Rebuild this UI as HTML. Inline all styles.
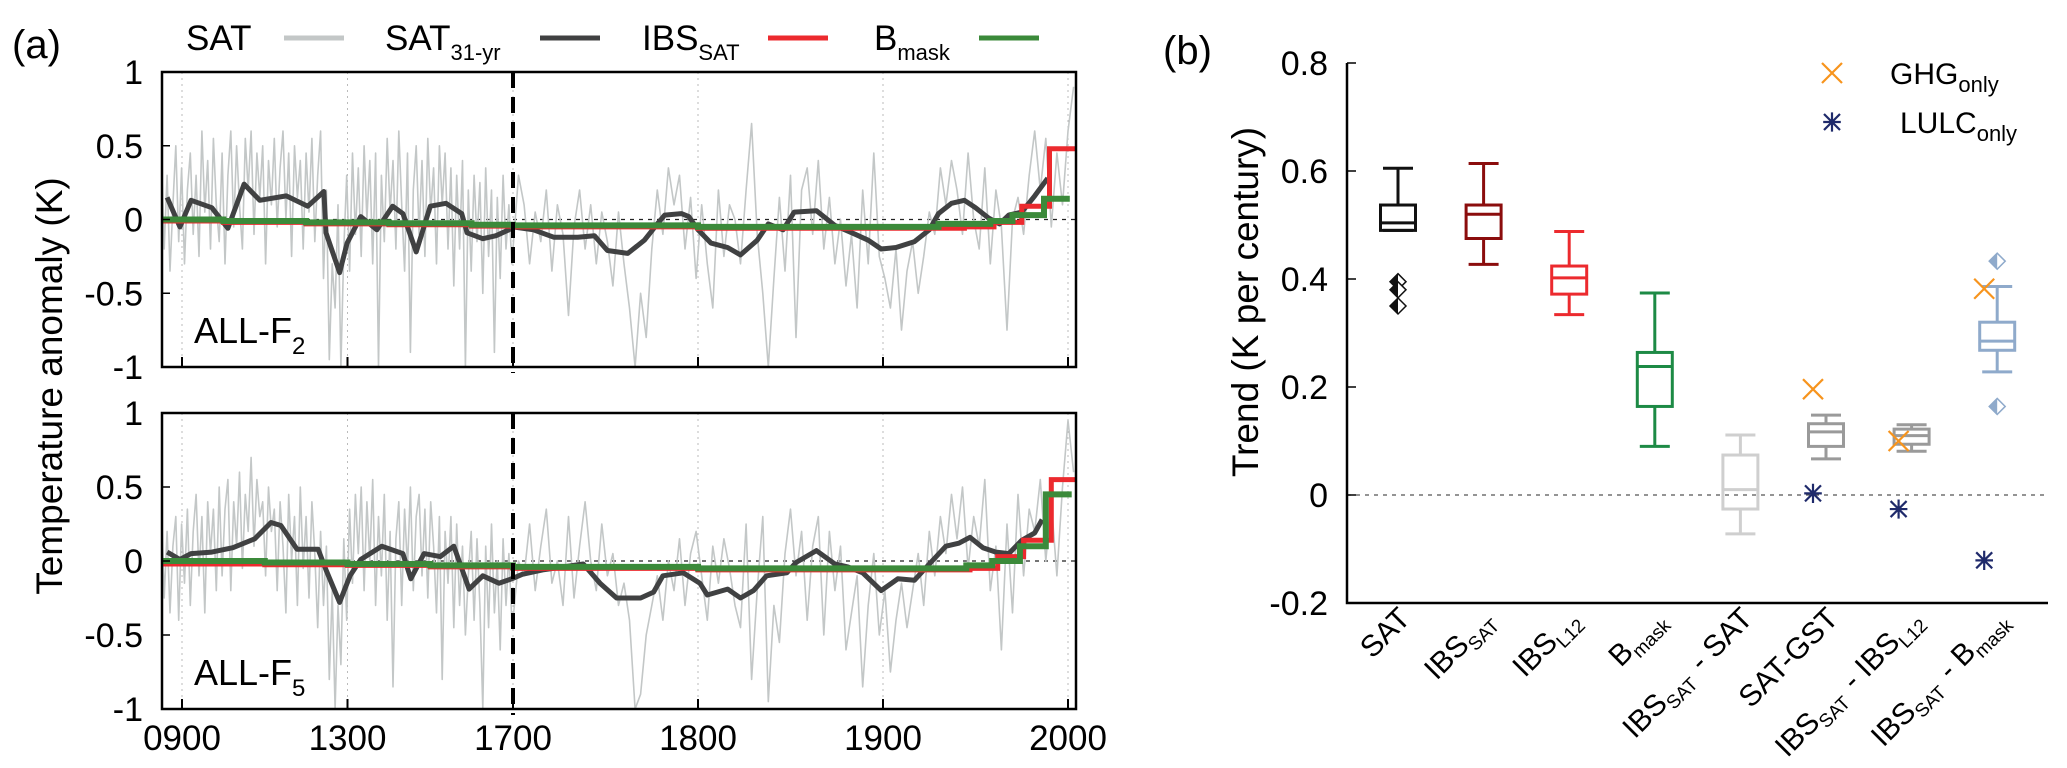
<!DOCTYPE html>
<html><head><meta charset="utf-8">
<style>
html,body{margin:0;padding:0;background:#fff;}
svg{display:block;font-family:"Liberation Sans",sans-serif;}
</style></head>
<body>
<svg id="fig" width="2067" height="768" viewBox="0 0 2067 768" xmlns="http://www.w3.org/2000/svg">
  <g id="panelA"></g>
  <g id="panelB"></g>
</svg>
<script>
// ---------- Panel (a) data ----------
const satStartPre = 850, satStepPre = 7, satStartPost = 1700, satStepPost = 3;
const sat1Pre = [0.45,-0.2,0.3,-0.35,0.1,0.5,-0.15,0.35,-0.3,0.2,
0.45,-0.1,0.3,-0.25,0.6,0.05,0.4,-0.2,0.55,0.1,
-0.15,0.45,-0.3,0.3,0.6,-0.05,0.5,0.1,-0.2,0.55,
0.2,0.6,-0.1,0.45,0.15,0.5,-0.3,0.4,0.1,0.55,
-0.05,0.35,0.6,0.0,0.45,-0.25,0.5,0.15,0.4,-0.2,
0.45,0.05,0.55,-0.15,0.3,0.6,-0.4,0.2,-0.95,-0.3,
-0.6,0.1,-1.0,-0.2,0.3,-0.35,0.45,-0.1,0.35,-0.25,
0.5,0.0,0.4,-0.3,0.45,-1.0,0.3,-0.15,0.55,0.05,
0.4,-0.2,0.6,0.1,-0.35,0.45,-0.9,0.2,0.5,-0.1,
0.4,-0.25,0.55,0.05,0.35,-0.3,0.5,0.1,0.45,-0.2,
0.35,-0.45,0.3,-0.2,0.4,-1.0,0.2,-0.35,0.3,-0.15,
0.25,-0.5,0.35,-0.25,0.2,-0.9,0.15,-0.4,0.3,-0.2,
0.1,-0.3];
const sat1Post = [-0.2,0.3,0.1,-0.3,0.05,-0.15,0.2,-0.35,0.1,-0.1,
-0.65,-0.05,0.2,-0.2,0.1,-0.3,0.05,-0.15,-0.45,0.05,
-0.3,-0.6,-1.0,-0.5,-0.8,-0.2,0.2,-0.1,0.35,0.1,
0.3,-0.2,0.15,-0.4,0.1,-0.3,-0.6,0.2,-0.25,0.1,
0.0,-0.3,0.2,0.65,-0.1,-0.5,-1.0,-0.4,0.15,-0.35,
0.3,-0.8,0.2,0.35,-0.1,0.4,-0.2,0.15,-0.3,0.0,
-0.45,-0.1,-0.6,0.2,-0.3,0.45,-0.25,-0.4,-0.6,-0.2,
-0.75,-0.35,-0.15,-0.5,-0.25,0.05,-0.1,0.35,0.1,0.4,
0.2,-0.1,0.45,0.0,-0.2,0.35,-0.3,0.2,-0.05,-0.75,
0.0,0.15,-0.1,0.3,0.6,0.2,0.55,-0.05,0.45,0.1,
0.6,0.9];
const sat2Pre = [0.4,-0.25,0.2,-0.35,0.1,0.3,-0.4,0.25,-0.15,0.35,
-0.3,0.2,0.45,-0.1,0.3,-0.35,0.4,0.05,0.35,-0.2,
0.5,-0.1,0.35,0.55,-0.2,0.4,0.1,0.6,-0.05,0.45,
0.2,0.7,0.1,0.55,0.3,0.4,-0.1,0.5,0.2,0.35,
-0.2,0.4,0.1,-0.35,0.45,0.0,0.3,-0.3,0.5,-0.05,
0.3,-0.25,0.4,0.05,-0.45,0.2,-0.3,0.1,-0.8,-0.2,
-1.0,-0.3,-0.7,0.15,-0.4,0.35,-0.15,0.45,0.05,0.5,
-0.2,0.4,0.0,0.55,-0.3,0.3,-0.1,0.45,-0.4,0.2,
-0.85,0.15,0.4,-0.3,0.35,-0.05,0.5,-0.2,0.3,0.45,
-0.1,0.35,-0.25,0.4,0.1,-0.35,0.3,-0.8,0.2,-0.15,
0.3,-0.45,0.25,-0.3,0.1,-0.5,-0.1,0.2,-0.4,0.15,
-0.3,-1.0,0.1,-0.45,0.25,-0.35,0.0,-0.6,0.15,-0.3,
0.05,-0.4];
const sat2Post = [-0.4,0.0,-0.1,0.25,-0.2,0.1,0.35,-0.15,0.0,-0.3,
0.3,-0.25,0.1,0.4,0.0,-0.2,0.25,-0.1,0.05,-0.3,
-0.15,-0.4,-1.0,-0.9,-0.5,-0.3,-0.1,-0.4,0.0,-0.2,
0.15,-0.3,0.05,0.2,-0.1,-0.4,0.1,-0.15,0.15,-0.05,
-0.3,-0.45,0.25,-0.8,-0.2,0.3,-0.95,-0.3,-0.55,0.05,
0.35,-0.1,0.2,-0.4,0.1,0.3,-0.5,0.2,-0.2,0.1,
-0.6,-0.35,-0.1,-0.85,-0.3,0.05,-0.5,-0.2,-0.75,-0.4,
-0.15,-0.45,-0.2,0.05,-0.3,0.2,-0.1,0.3,0.05,0.45,
0.15,0.5,-0.05,0.3,0.1,0.55,-0.2,0.1,-0.6,0.25,
-0.35,0.45,-0.1,0.35,0.2,0.55,0.0,0.4,-0.1,0.5,
0.95,0.6];
const smooth1Years = [864,895,922,972,1011,1050,1088,1152,1204,1243,1248,1281,1299,1332,1371,1409,1434,1466,1500,1538,1576,1589,1627,1659,1690,1700,1711,1722,1735,1744,1751,1762,1771,1778,1782,1791,1795,1800,1807,1816,1823,1832,1838,1846,1852,1864,1874,1885,1892,1899,1907,1917,1925,1930,1937,1944,1950,1957,1963,1968,1975,1982,1989];
const smooth1Vals = [0.15,-0.05,0.13,0.08,-0.06,0.24,0.13,0.16,0.09,0.19,-0.09,-0.36,-0.16,0.02,-0.07,0.09,0.04,-0.22,0.09,0.11,0.04,-0.09,-0.13,-0.11,-0.07,-0.05,-0.07,-0.12,-0.12,-0.11,-0.21,-0.23,-0.14,-0.03,0.03,0.04,0.02,-0.07,-0.16,-0.19,-0.24,-0.14,-0.03,-0.07,0.05,0.06,-0.04,-0.10,-0.14,-0.20,-0.19,-0.15,-0.07,0.04,0.11,0.13,0.08,0.01,-0.03,0.03,0.05,0.16,0.28];
const smooth2Years = [864,895,922,972,1023,1076,1115,1139,1178,1229,1248,1281,1306,1332,1383,1434,1453,1485,1524,1557,1594,1627,1666,1697,1705,1716,1738,1747,1756,1769,1776,1781,1792,1801,1805,1816,1823,1830,1837,1848,1853,1864,1874,1881,1889,1899,1908,1917,1925,1934,1941,1947,1954,1961,1968,1975,1982,1986];
const smooth2Vals = [0.06,0.01,0.05,0.06,0.09,0.15,0.26,0.24,0.08,0.08,-0.06,-0.28,-0.10,0.01,0.10,0.05,-0.12,0.05,0.03,0.10,-0.19,-0.10,-0.15,-0.12,-0.09,-0.06,-0.02,-0.15,-0.25,-0.25,-0.21,-0.10,-0.08,-0.15,-0.23,-0.19,-0.25,-0.20,-0.10,-0.08,-0.01,0.07,-0.02,-0.04,-0.08,-0.20,-0.12,-0.13,-0.02,0.10,0.12,0.16,0.09,0.06,0.05,0.14,0.19,0.28];
const ibs1Years = [852,1000,1200,1400,1600,1700,1800,1944,1960,1975,1990];
const ibs1Vals = [-0.01,-0.02,-0.03,-0.035,-0.045,-0.05,-0.06,-0.05,-0.02,0.09,0.48];
const ibs1End = 2005;
const bm1Years = [852,1000,1200,1400,1600,1700,1800,1930,1958,1970,1987];
const bm1Vals = [0,-0.01,-0.02,-0.025,-0.035,-0.04,-0.05,-0.03,-0.01,0.03,0.14];
const bm1End = 2001;
const ibs2Years = [852,1100,1300,1500,1700,1800,1933,1947,1962,1976,1991];
const ibs2Vals = [-0.02,-0.025,-0.03,-0.04,-0.05,-0.06,-0.06,-0.05,0.03,0.14,0.55];
const ibs2End = 2005;
const bm2Years = [852,1100,1300,1500,1700,1800,1945,1959,1974,1988];
const bm2Vals = [0,-0.01,-0.02,-0.03,-0.04,-0.05,-0.03,0.0,0.10,0.45];
const bm2End = 2002;
const xTickYears = [900,1300,1700,1800,1900,2000];
const xTickLabels = ["0900","1300","1700","1800","1900","2000"];
const yTicksA = [1,0.5,0,-0.5,-1];
const yTickLabelsA = ["1","0.5","0","-0.5","-1"];

// ---------- Panel (b) data ----------
const catLabels = ["SAT","IBS_SAT","IBS_L12","B_mask","IBS_SAT - SAT","SAT-GST","IBS_SAT - IBS_L12","IBS_SAT - B_mask"];
const whiskHi = [0.605,0.614,0.488,0.374,0.111,0.148,0.130,0.386];
const boxHi   = [0.537,0.537,0.424,0.264,0.074,0.132,0.122,0.320];
const medians = [0.504,0.520,0.402,0.238,0.010,0.117,0.110,0.285];
const boxLo   = [0.490,0.475,0.372,0.164,-0.026,0.090,0.094,0.268];
const whiskLo = [0.490,0.427,0.334,0.090,-0.072,0.067,0.081,0.228];
const boxColors = ["#111111","#8b0d0d","#ec2a2e","#1d8a45","#cfcfcf","#9a9a9a","#9a9a9a","#8faacb"];
const outlierCat = [0,0,0,7,7];
const outlierVals = [0.395,0.380,0.350,0.433,0.164];
const ghgCat = [5,6,7];
const ghgVals = [0.196,0.100,0.382];
const lulcCat = [5,6,7];
const lulcVals = [0.003,-0.026,-0.121];
const yTicksB = [0.8,0.6,0.4,0.2,0,-0.2];
const yTickLabelsB = ["0.8","0.6","0.4","0.2","0","-0.2"];

const NS = "http://www.w3.org/2000/svg";
function mk(parent, tag, attrs, text){
  const e = document.createElementNS(NS, tag);
  for (const k in attrs) e.setAttribute(k, attrs[k]);
  if (text !== undefined) e.textContent = text;
  parent.appendChild(e);
  return e;
}

// ---------- Panel (a) ----------
const A = document.getElementById('panelA');
const PL = 162, PR = 1076;
function xA(yr){ return yr < 1700 ? 182 + (yr - 900) * 165.5 / 400 : 513 + (yr - 1700) * 1.85; }
const panels = [
  {top:72, bot:367, zero:219.5, k:147.5, pre:sat1Pre, post:sat1Post, sy:smooth1Years, sv:smooth1Vals,
   iy:ibs1Years, iv:ibs1Vals, ie:ibs1End, by:bm1Years, bv:bm1Vals, be:bm1End, lab:"2", labY:343, name:"top"},
  {top:413, bot:709, zero:561, k:148, pre:sat2Pre, post:sat2Post, sy:smooth2Years, sv:smooth2Vals,
   iy:ibs2Years, iv:ibs2Vals, ie:ibs2End, by:bm2Years, bv:bm2Vals, be:bm2End, lab:"5", labY:685, name:"bottom"}
];
const defs = mk(document.getElementById('fig'), 'defs', {});
panels.forEach((p, pi) => {
  const yA = v => p.zero - v * p.k;
  const g = mk(A, 'g', {});
  
  
  const cp = mk(defs, 'clipPath', {id:'clipA' + pi});
  mk(cp, 'rect', {x:PL, y:p.top, width:PR - PL, height:p.bot - p.top});
  xTickYears.forEach(yr => {
    const gl = mk(g, 'line', {x1:xA(yr), x2:xA(yr), y1:p.top, y2:p.bot, stroke:'#bbb', 'stroke-width':1, 'stroke-dasharray':'2,4'});
    
    
  });
  const zl = mk(g, 'line', {x1:PL, x2:PR, y1:yA(0), y2:yA(0), stroke:'#222', 'stroke-width':1.3, 'stroke-dasharray':'4,5'});
  
  
  const data = mk(g, 'g', {'clip-path':'url(#clipA' + pi + ')'});
  let pts = [];
  p.pre.forEach((v, i) => pts.push(xA(satStartPre + i * satStepPre).toFixed(1) + ',' + yA(v).toFixed(1)));
  p.post.forEach((v, i) => pts.push(xA(satStartPost + i * satStepPost).toFixed(1) + ',' + yA(v).toFixed(1)));
  const sl = mk(data, 'polyline', {points:pts.join(' '), fill:'none', stroke:'#c3c7c7', 'stroke-width':1.6, 'stroke-linejoin':'round'});
  
  
  pts = p.sy.map((yr, i) => xA(yr).toFixed(1) + ',' + yA(p.sv[i]).toFixed(1));
  const dl = mk(data, 'polyline', {points:pts.join(' '), fill:'none', stroke:'#404142', 'stroke-width':5, 'stroke-linejoin':'round'});
  
  
  function step(years, vals, end){
    const out = [];
    years.forEach((yr, i) => {
      const nx = i < years.length - 1 ? years[i + 1] : end;
      out.push(xA(yr).toFixed(1) + ',' + yA(vals[i]).toFixed(1));
      out.push(xA(nx).toFixed(1) + ',' + yA(vals[i]).toFixed(1));
    });
    return out.join(' ');
  }
  const rl = mk(data, 'polyline', {points:step(p.iy, p.iv, p.ie), fill:'none', stroke:'#ec2a2e', 'stroke-width':5});
  
  
  const gl2 = mk(data, 'polyline', {points:step(p.by, p.bv, p.be), fill:'none', stroke:'#3b8a3a', 'stroke-width':6});
  
  
  const d17 = mk(g, 'line', {x1:xA(1700), x2:xA(1700), y1:p.top, y2:p.bot + 6, stroke:'#000', 'stroke-width':4, 'stroke-dasharray':'16,9'});
  
  
  const fr = mk(g, 'rect', {x:PL, y:p.top, width:PR - PL, height:p.bot - p.top, fill:'none', stroke:'#000', 'stroke-width':2.5});
  
  
  xTickYears.forEach(yr => {
    const t = mk(g, 'line', {x1:xA(yr), x2:xA(yr), y1:p.bot, y2:p.bot - 10, stroke:'#000', 'stroke-width':2});
    
    
  });
  yTicksA.forEach((v, i) => {
    const t = mk(g, 'line', {x1:PL, x2:PL + 8, y1:yA(v), y2:yA(v), stroke:'#000', 'stroke-width':1.5});
    
    
    const tl = mk(g, 'text', {x:143, y:yA(v) + 12, 'text-anchor':'end', 'font-size':34}, yTickLabelsA[i]);
    
    
  });
  const lab = mk(g, 'text', {x:194, y:p.labY, 'font-size':36}, 'ALL-F');
  
  
  mk(lab, 'tspan', {'font-size':24, dy:11}, p.lab);
});
xTickYears.forEach((yr, i) => {
  const t = mk(A, 'text', {x:xA(yr), y:750, 'text-anchor':'middle', 'font-size':35}, xTickLabels[i]);
  
  
});
const yl = mk(A, 'text', {x:0, y:0, 'text-anchor':'middle', 'font-size':37, transform:'translate(62,386) rotate(-90)'}, 'Temperature anomaly (K)');


const pa = mk(A, 'text', {x:12, y:58, 'font-size':40}, '(a)');


const legA = mk(A, 'g', {});


const legItems = [
  {t:'SAT', s:'', tx:186, lx:284, c:'#c3c7c7', w:5},
  {t:'SAT', s:'31-yr', tx:385, lx:540, c:'#404142', w:5},
  {t:'IBS', s:'SAT', tx:642, lx:768, c:'#ec2a2e', w:5},
  {t:'B', s:'mask', tx:874, lx:979, c:'#3b8a3a', w:5}
];
legItems.forEach(it => {
  const e = mk(legA, 'g', {});
  
  
  const tt = mk(e, 'text', {x:it.tx, y:50, 'font-size':35}, it.t);
  if (it.s) mk(tt, 'tspan', {'font-size':22, dy:10}, it.s);
  mk(e, 'line', {x1:it.lx, x2:it.lx + 60, y1:38, y2:38, stroke:it.c, 'stroke-width':it.w});
});

// ---------- Panel (b) ----------
const B = document.getElementById('panelB');
const BL = 1347, BR = 2048, BT = 63, BB = 603;
function yB(v){ return BT + (0.8 - v) * 540; }
function xB(i){ return 1398 + i * 85.6; }
const zb = mk(B, 'line', {x1:BL, x2:BR, y1:yB(0), y2:yB(0), stroke:'#555', 'stroke-width':1.3, 'stroke-dasharray':'4,5'});


const axB = mk(B, 'path', {d:`M${BL},${BT} L${BL},${BB} L${BR},${BB}`, fill:'none', stroke:'#000', 'stroke-width':2.5});


yTicksB.forEach((v, i) => {
  const t = mk(B, 'line', {x1:BL, x2:BL + 9, y1:yB(v), y2:yB(v), stroke:'#000', 'stroke-width':1.5});
  
  
  const tl = mk(B, 'text', {x:1328, y:yB(v) + 12, 'text-anchor':'end', 'font-size':34}, yTickLabelsB[i]);
  
  
});
catLabels.forEach((lab, i) => {
  const x = xB(i), c = boxColors[i], hw = 17.5, cw = 15;
  const g = mk(B, 'g', {stroke:c, 'stroke-width':3, fill:'none'});
  
  
  mk(g, 'line', {x1:x, x2:x, y1:yB(whiskHi[i]), y2:yB(boxHi[i])});
  mk(g, 'line', {x1:x, x2:x, y1:yB(boxLo[i]), y2:yB(whiskLo[i])});
  mk(g, 'line', {x1:x - cw, x2:x + cw, y1:yB(whiskHi[i]), y2:yB(whiskHi[i])});
  mk(g, 'line', {x1:x - cw, x2:x + cw, y1:yB(whiskLo[i]), y2:yB(whiskLo[i])});
  mk(g, 'rect', {x:x - hw, y:yB(boxHi[i]), width:2 * hw, height:yB(boxLo[i]) - yB(boxHi[i])});
  mk(g, 'line', {x1:x - hw, x2:x + hw, y1:yB(medians[i]), y2:yB(medians[i])});
  const tg = mk(B, 'text', {'text-anchor':'end', 'font-size':30, transform:`translate(${x + 14},620) rotate(-45)`});
  
  
  const segs = lab.split(' - ');
  segs.forEach((s, si) => {
    if (si > 0) mk(tg, 'tspan', {}, ' - ');
    const m = s.split('_');
    mk(tg, 'tspan', {}, m[0]);
    if (m[1]) { mk(tg, 'tspan', {'font-size':19, dy:7}, m[1]); mk(tg, 'tspan', {dy:-7}, '\u200a'); }
  });
});
outlierVals.forEach((v, i) => {
  const x = xB(outlierCat[i]), y = yB(v), c = boxColors[outlierCat[i]], r = 8;
  const g = mk(B, 'g', {});
  
  
  mk(g, 'path', {d:`M${x},${y - r} L${x + r},${y} L${x},${y + r} L${x - r},${y} Z`, fill:'#fff', stroke:c, 'stroke-width':1.5});
  mk(g, 'path', {d:`M${x},${y - r} L${x - r},${y} L${x},${y + r} Z`, fill:c});
});
function xMark(parent, x, y, r, c){
  mk(parent, 'path', {d:`M${x - r},${y - r} L${x + r},${y + r} M${x - r},${y + r} L${x + r},${y - r}`, stroke:c, 'stroke-width':2.2, fill:'none'});
}
function starMark(parent, x, y, r, c){
  mk(parent, 'path', {d:`M${x - r},${y - r} L${x + r},${y + r} M${x - r},${y + r} L${x + r},${y - r} M${x},${y - r * 1.2} L${x},${y + r * 1.2} M${x - r * 1.1},${y} L${x + r * 1.1},${y}`, stroke:c, 'stroke-width':2.2, fill:'none'});
}
ghgVals.forEach((v, i) => {
  const g = mk(B, 'g', {});
  
  
  xMark(g, xB(ghgCat[i]) - 13, yB(v), 10, '#f7941d');
});
lulcVals.forEach((v, i) => {
  const g = mk(B, 'g', {});
  
  
  starMark(g, xB(lulcCat[i]) - 13, yB(v), 8, '#1f2a6b');
});
const lg1 = mk(B, 'g', {});


xMark(lg1, 1832, 73, 10, '#f7941d');
const t1 = mk(lg1, 'text', {x:1890, y:84, 'font-size':30}, 'GHG');
mk(t1, 'tspan', {'font-size':22, dy:8}, 'only');
const lg2 = mk(B, 'g', {});


starMark(lg2, 1832, 122, 8, '#1f2a6b');
const t2 = mk(lg2, 'text', {x:1900, y:133, 'font-size':30}, 'LULC');
mk(t2, 'tspan', {'font-size':22, dy:8}, 'only');
const ylb = mk(B, 'text', {x:0, y:0, 'text-anchor':'middle', 'font-size':37, transform:'translate(1258,302) rotate(-90)'}, 'Trend (K per century)');


const pb = mk(B, 'text', {x:1163, y:64, 'font-size':40}, '(b)');


</script>
</body></html>
